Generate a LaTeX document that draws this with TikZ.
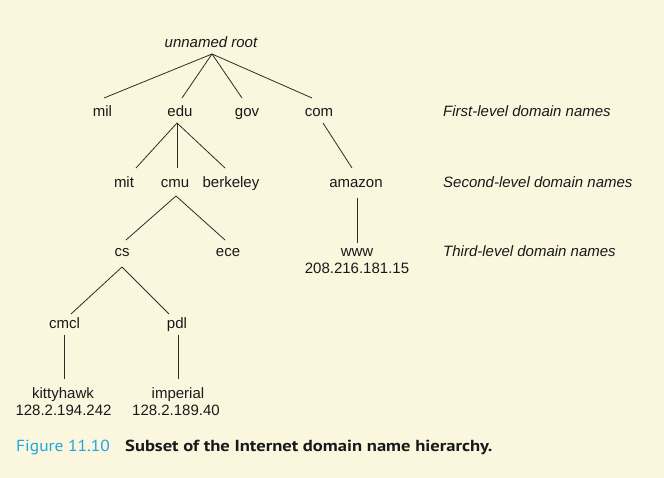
\documentclass[tikz,border=0pt]{standalone}
\usepackage{fontspec}
\setmainfont{Liberation Sans}
\newfontfamily\capfont{PT Sans}
\definecolor{bgc}{RGB}{250,247,222}
\definecolor{capblue}{RGB}{30,166,222}
\definecolor{linec}{RGB}{45,45,40}
\definecolor{txt}{RGB}{25,25,25}
\begin{document}
\begin{tikzpicture}[x=1pt,y=-1pt,
  lbl/.style={anchor=base,inner sep=0pt,font=\fontsize{15}{18}\selectfont,text=txt},
  lvl/.style={anchor=base west,inner sep=0pt,font=\fontsize{15}{18}\selectfont\itshape,text=txt},
  edge/.style={draw=linec,line width=0.8pt}]
\fill[bgc] (0,0) rectangle (664,478);
\useasboundingbox (0,0) rectangle (664,478);
% nodes
\node[lbl,font=\fontsize{15}{18}\selectfont\itshape] (root) at (211,48) {unnamed root};
\node[lbl] (mil) at (102.5,117) {mil};
\node[lbl] (edu) at (180,117) {edu};
\node[lbl] (gov) at (247,117) {gov};
\node[lbl] (com) at (319,117) {com};
\node[lbl] (mit) at (124,188) {mit};
\node[lbl] (cmu) at (175,188) {cmu};
\node[lbl] (berkeley) at (231,188) {berkeley};
\node[lbl] (amazon) at (356,188) {amazon};
\node[lbl] (cs) at (122,257) {cs};
\node[lbl] (ece) at (228,257) {ece};
\node[lbl] (www) at (357,257) {www};
\node[lbl] (wwwip) at (357,274) {208.216.181.15};
\node[lbl] (cmcl) at (64.5,329) {cmcl};
\node[lbl] (pdl) at (177,329) {pdl};
\node[lbl] (kitty) at (63,398) {kittyhawk};
\node[lbl] (kittyip) at (63.5,415.5) {128.2.194.242};
\node[lbl] (imperial) at (178,398) {imperial};
\node[lbl] (impip) at (176,415.5) {128.2.189.40};
\node[lvl] (first) at (443,117) {First-level domain names};
\node[lvl] (second) at (443,188) {Second-level domain names};
\node[lvl] (third) at (443,257) {Third-level domain names};
\node[anchor=base west,inner sep=0pt,font=\capfont\fontsize{16}{19}\selectfont,text=capblue] (fig) at (16,451) {\scalebox{1.09}[1]{Figure 11.10}};
\node[anchor=base west,inner sep=0pt,font=\capfont\bfseries\fontsize{16}{19}\selectfont,text=txt] (cap) at (125,451) {\scalebox{1.16}[1]{Subset of the Internet domain name hierarchy.}};
% connectors
\draw[edge] ([shift={(1,6)}]root.base) -- ([shift={(1.5,-19)}]mil.base);
\draw[edge] ([shift={(1,6)}]root.base) -- ([shift={(2,-19)}]edu.base);
\draw[edge] ([shift={(1,6)}]root.base) -- ([shift={(-5,-19)}]gov.base);
\draw[edge] ([shift={(1,6)}]root.base) -- ([shift={(-7,-19)}]com.base);
\draw[edge] ([shift={(-3,6)}]edu.base) -- ([shift={(12,-20)}]mit.base);
\draw[edge] ([shift={(-3,6)}]edu.base) -- ([shift={(2,-20)}]cmu.base);
\draw[edge] ([shift={(-3,6)}]edu.base) -- ([shift={(-6,-20)}]berkeley.base);
\draw[edge] ([shift={(4,6)}]com.base) -- ([shift={(-4,-20)}]amazon.base);
\draw[edge] ([shift={(1,8)}]cmu.base) -- ([shift={(4,-17)}]cs.base);
\draw[edge] ([shift={(1,8)}]cmu.base) -- ([shift={(-3,-17)}]ece.base);
\draw[edge] ([shift={(1,10)}]amazon.base) -- ([shift={(0,-14)}]www.base);
\draw[edge] ([shift={(0,10)}]cs.base) -- ([shift={(6.5,-15)}]cmcl.base);
\draw[edge] ([shift={(0,10)}]cs.base) -- ([shift={(-8,-15)}]pdl.base);
\draw[edge] ([shift={(-0.5,6)}]cmcl.base) -- ([shift={(1,-19)}]kitty.base);
\draw[edge] ([shift={(1,6)}]pdl.base) -- ([shift={(0,-19)}]imperial.base);
\end{tikzpicture}
\end{document}
